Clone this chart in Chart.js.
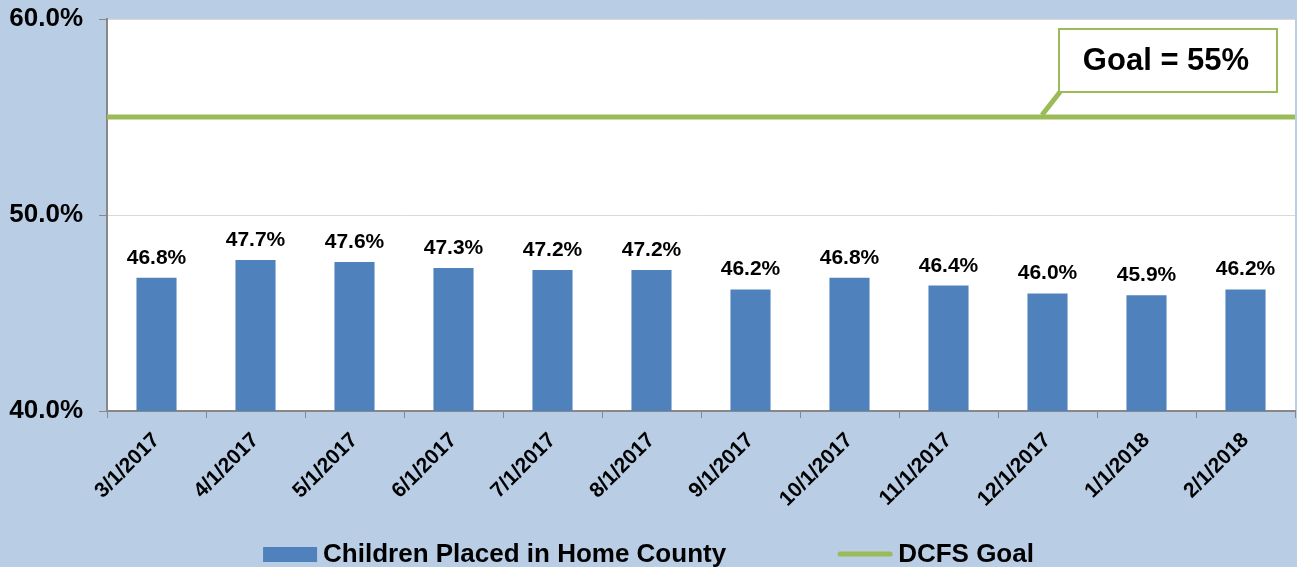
<!DOCTYPE html>
<html>
<head>
<meta charset="utf-8">
<script src="https://cdn.jsdelivr.net/npm/chart.js@4/dist/chart.umd.min.js"></script>
<style>
  html, body { margin: 0; padding: 0; background: #B9CDE5; }
  #wrap { width: 1297px; height: 567px; }
</style>
</head>
<body>
<div id="wrap"><canvas id="grafik"></canvas></div>
<script>
const bulan = ["3/1/2017", "4/1/2017", "5/1/2017", "6/1/2017", "7/1/2017", "8/1/2017",
               "9/1/2017", "10/1/2017", "11/1/2017", "12/1/2017", "1/1/2018", "2/1/2018"];
const persenAnak = [46.8, 47.7, 47.6, 47.3, 47.2, 47.2, 46.2, 46.8, 46.4, 46.0, 45.9, 46.2];
const targetDcfs = 55;
const tickY = [40, 50, 60];

const FONT = "'Liberation Sans', Arial, sans-serif";

// area plot putih
const latarPlot = {
    id: "latarPlot",
    beforeDraw(chart) {
        const { ctx, chartArea: a } = chart;
        ctx.save();
        ctx.fillStyle = "#FFFFFF";
        ctx.fillRect(a.left, a.top, a.right - a.left, a.bottom - a.top);
        ctx.restore();
    }
};

// label nilai di atas batang
const labelNilai = {
    id: "labelNilai",
    afterDatasetsDraw(chart) {
        const ctx = chart.ctx;
        const meta = chart.getDatasetMeta(0);
        ctx.save();
        ctx.font = "bold 21px " + FONT;
        ctx.fillStyle = "#000";
        ctx.textAlign = "center";
        ctx.textBaseline = "alphabetic";
        meta.data.forEach((bar, i) => {
            ctx.fillText(persenAnak[i].toFixed(1) + "%", bar.x, bar.y - 14);
        });
        ctx.restore();
    }
};

// kotak keterangan "Goal = 55%"
const kotakGoal = {
    id: "kotakGoal",
    afterDraw(chart) {
        const { ctx, chartArea: a } = chart;
        const yGoal = chart.scales.y.getPixelForValue(targetDcfs);
        const x1 = a.right - 236, x2 = a.right - 18;
        const y1 = a.top + 10, y2 = a.top + 73;
        ctx.save();
        ctx.strokeStyle = "#9BBB59";
        ctx.lineWidth = 5;
        ctx.beginPath();
        ctx.moveTo(x1 + 1, y2);
        ctx.lineTo(x1 - 17, yGoal - 2);
        ctx.stroke();
        ctx.fillStyle = "#FFFFFF";
        ctx.fillRect(x1, y1, x2 - x1, y2 - y1);
        ctx.lineWidth = 2;
        ctx.strokeRect(x1, y1, x2 - x1, y2 - y1);
        ctx.font = "bold 31px " + FONT;
        ctx.fillStyle = "#000";
        ctx.textAlign = "center";
        ctx.textBaseline = "middle";
        ctx.fillText("Goal = " + targetDcfs + "%", (x1 + x2) / 2 - 2, (y1 + y2) / 2 + 1);
        ctx.restore();
    }
};

// legenda di bawah
const legendaBawah = {
    id: "legendaBawah",
    afterDraw(chart) {
        const ctx = chart.ctx;
        const ds = chart.data.datasets;
        const yMid = 554;
        ctx.save();
        ctx.font = "bold 26px " + FONT;
        ctx.textBaseline = "middle";
        ctx.textAlign = "left";
        const kotak = 54, jarakTeks = 6, jarakItem = 112;
        const lebar = ds.map(d => kotak + jarakTeks + ctx.measureText(d.label).width);
        const total = lebar.reduce((s, w) => s + w, 0) + jarakItem * (ds.length - 1);
        let x = (chart.width - total) / 2;
        ds.forEach((d, i) => {
            if (d.type === "bar") {
                ctx.fillStyle = d.backgroundColor;
                ctx.fillRect(x, yMid - 7, kotak, 15);
            } else {
                ctx.strokeStyle = d.borderColor;
                ctx.lineWidth = 5;
                ctx.lineCap = "round";
                ctx.beginPath();
                ctx.moveTo(x + 2, yMid);
                ctx.lineTo(x + kotak - 2, yMid);
                ctx.stroke();
            }
            ctx.fillStyle = "#000";
            ctx.fillText(d.label, x + kotak + jarakTeks, yMid + 1);
            x += lebar[i] + jarakItem;
        });
        ctx.restore();
    }
};

const ctx = document.getElementById("grafik").getContext("2d");
new Chart(ctx, {
    data: {
        labels: bulan,
        datasets: [{
            type: "bar",
            label: "Children Placed in Home County",
            data: persenAnak,
            backgroundColor: "#4F81BD",
            borderWidth: 0,
            grouped: false,
            barPercentage: 0.405,
            categoryPercentage: 1
        }, {
            type: "line",
            label: "DCFS Goal",
            xAxisID: "xg",
            data: [{ x: 0, y: targetDcfs }, { x: bulan.length, y: targetDcfs }],
            borderColor: "#9BBB59",
            backgroundColor: "#9BBB59",
            borderWidth: 5,
            pointRadius: 0
        }]
    },
    options: {
        responsive: true,
        maintainAspectRatio: false,
        animation: false,
        layout: { padding: { top: 19, right: 2, left: 8, bottom: 0 } },
        plugins: {
            tooltip: { enabled: false },
            legend: { display: false }
        },
        scales: {
            x: {
                offset: true,
                grid: { display: true, drawOnChartArea: false, offset: true, color: "#888", tickLength: 7 },
                border: { color: "#888", width: 2 },
                ticks: {
                    color: "#000",
                    maxRotation: 45,
                    minRotation: 45,
                    padding: 10,
                    font: { family: FONT, size: 21, weight: "bold" }
                },
                afterFit(axis) {
                    axis.height = 156;
                    axis.paddingLeft = 0;
                    axis.paddingRight = 0;
                }
            },
            xg: {
                type: "linear",
                display: false,
                min: 0,
                max: bulan.length
            },
            y: {
                min: 40,
                max: 60,
                afterBuildTicks(axis) {
                    axis.ticks = tickY.map(v => ({ value: v }));
                },
                grid: { color: "#D9D9D9", tickColor: "#888", tickLength: 8 },
                border: { color: "#888", width: 2 },
                ticks: {
                    color: "#000",
                    padding: 16,
                    font: { family: FONT, size: 26, weight: "bold" },
                    callback: v => v.toFixed(1) + "%"
                },
                afterFit(axis) {
                    axis.width = 99;
                    axis.paddingTop = 0;
                    axis.paddingBottom = 0;
                }
            }
        }
    },
    plugins: [latarPlot, labelNilai, kotakGoal, legendaBawah]
});
</script>
</body>
</html>
